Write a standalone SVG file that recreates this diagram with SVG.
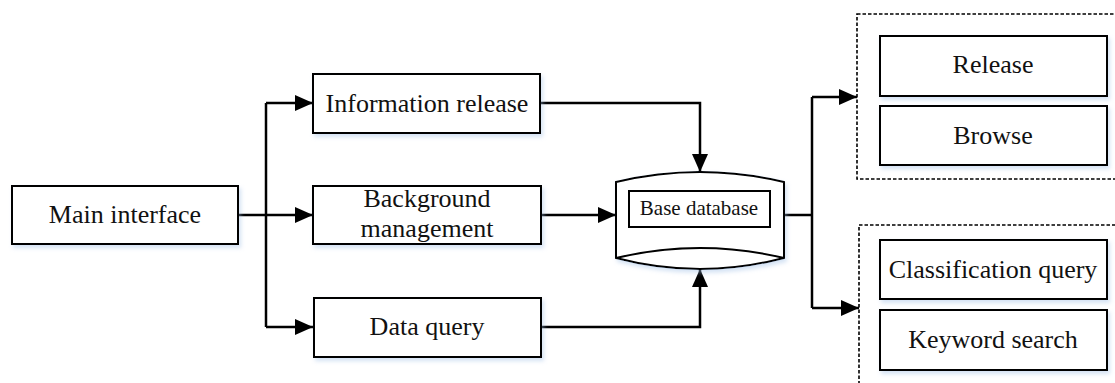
<svg xmlns="http://www.w3.org/2000/svg" width="1115" height="383" viewBox="0 0 1115 383">
<style>
.box{fill:#fff;stroke:#000;stroke-width:2;filter:url(#sh)}
.t{font-family:"Liberation Serif","Times New Roman",serif;font-size:26px;fill:#111;text-anchor:middle}
.ts{font-family:"Liberation Serif","Times New Roman",serif;font-size:21px;fill:#111;text-anchor:middle}
.c{fill:none;stroke:#000;stroke-width:2.5}
.dash{fill:none;stroke:#000;stroke-width:1.6;stroke-dasharray:3.5 2}
</style>
<defs>
<filter id="sh" x="-10%" y="-10%" width="125%" height="140%">
<feDropShadow dx="2" dy="3" stdDeviation="2" flood-color="#9fbfe6" flood-opacity="0.45"/>
</filter>
<marker id="ah" markerUnits="userSpaceOnUse" markerWidth="20" markerHeight="20" viewBox="0 0 20 20" refX="18" refY="10" orient="auto">
<path d="M0,2 L18,10 L0,18 Z" fill="#000"/>
</marker>
</defs>
<g id="connectors">
<path class="c" d="M238,215 H266"/>
<path class="c" d="M266,103 V327"/>
<path class="c" d="M266,103 H313" marker-end="url(#ah)"/>
<path class="c" d="M266,215 H313" marker-end="url(#ah)"/>
<path class="c" d="M266,327 H313" marker-end="url(#ah)"/>
<path class="c" d="M540,103 H700 V172" marker-end="url(#ah)"/>
<path class="c" d="M541,215 H616" marker-end="url(#ah)"/>
<path class="c" d="M541,327 H700 V269" marker-end="url(#ah)"/>
<path class="c" d="M784,215 H812"/>
<path class="c" d="M812,97 V308"/>
<path class="c" d="M812,97 H857" marker-end="url(#ah)"/>
<path class="c" d="M812,308 H859" marker-end="url(#ah)"/>
</g>
<g id="main-interface">
<rect class="box" x="12" y="186" width="226" height="58"/>
<text class="t" x="125" y="223">Main interface</text>
</g>
<g id="information-release">
<rect class="box" x="313" y="74" width="227" height="59"/>
<text class="t" x="427" y="112">Information release</text>
</g>
<g id="background-management">
<rect class="box" x="313" y="186" width="228" height="58"/>
<text class="t" x="427" y="207">Background</text>
<text class="t" x="427" y="237">management</text>
</g>
<g id="data-query">
<rect class="box" x="314" y="298" width="227" height="59"/>
<text class="t" x="427" y="335">Data query</text>
</g>
<g id="base-database">
<path class="box" d="M616,182 Q700,162 784,182 V258 Q700,280 616,258 Z"/>
<path fill="none" stroke="#000" stroke-width="2" d="M616,258 Q700,238 784,258"/>
<rect fill="#fff" stroke="#000" stroke-width="2" x="629" y="191" width="141" height="36"/>
<text class="ts" x="699" y="215">Base database</text>
</g>
<g id="group-release-browse">
<rect class="dash" x="857" y="14" width="270" height="165"/>
<g id="release">
<rect class="box" x="880" y="36" width="227" height="60"/>
<text class="t" x="993" y="73">Release</text>
</g>
<g id="browse">
<rect class="box" x="880" y="106" width="227" height="59"/>
<text class="t" x="993" y="144">Browse</text>
</g>
</g>
<g id="group-query-search">
<rect class="dash" x="859" y="225" width="270" height="170"/>
<g id="classification-query">
<rect class="box" x="880" y="240" width="227" height="59"/>
<text class="t" x="993" y="278">Classification query</text>
</g>
<g id="keyword-search">
<rect class="box" x="880" y="310" width="227" height="60"/>
<text class="t" x="993" y="348">Keyword search</text>
</g>
</g>
</svg>
